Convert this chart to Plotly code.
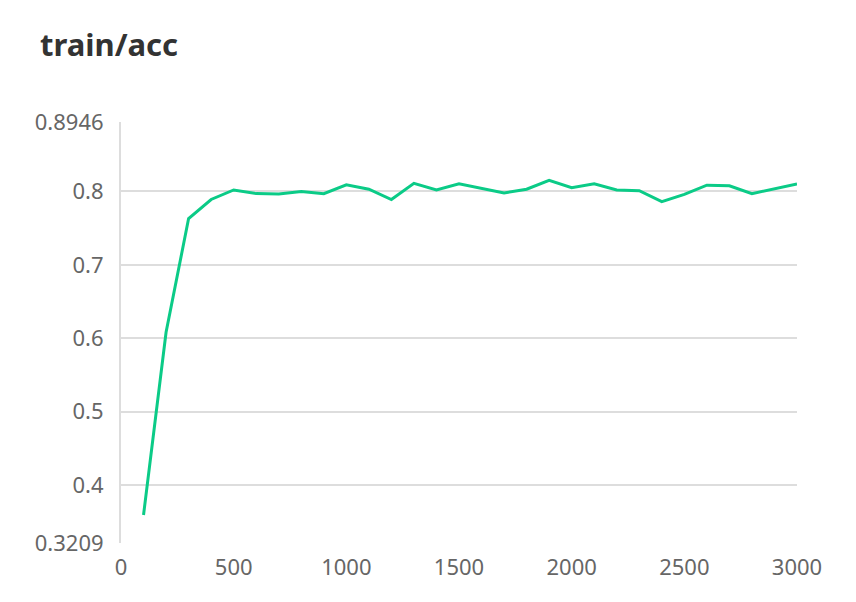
import plotly.graph_objects as go

steps = [100, 200, 300, 400, 500, 600, 700, 800, 900, 1000,
         1100, 1200, 1300, 1400, 1500, 1600, 1700, 1800, 1900, 2000,
         2100, 2200, 2300, 2400, 2500, 2600, 2700, 2800, 2900, 3000]
acc = [0.359, 0.608, 0.763, 0.789, 0.802, 0.797, 0.7965, 0.800, 0.797, 0.809,
       0.803, 0.789, 0.811, 0.802, 0.8105, 0.8045, 0.798, 0.803, 0.815, 0.805,
       0.8105, 0.802, 0.801, 0.786, 0.796, 0.8085, 0.8077, 0.797, 0.803, 0.810]

y_tickvals = [0.3209, 0.4, 0.5, 0.6, 0.7, 0.8, 0.8946]
y_ticktext = ["0.3209", "0.4", "0.5", "0.6", "0.7", "0.8", "0.8946"]
x_tickvals = [0, 500, 1000, 1500, 2000, 2500, 3000]

fig = go.Figure()
fig.add_trace(go.Scatter(
    x=steps, y=acc, mode="lines",
    line=dict(color="#0bcb87", width=3),
    hoverinfo="x+y", showlegend=False,
))

fig.update_layout(
    width=856, height=602,
    margin=dict(l=113, r=67, t=114, b=67),
    paper_bgcolor="white", plot_bgcolor="white",
    font=dict(family="Noto Sans, Open Sans, sans-serif", color="#666666", size=21),
    title=dict(text="<b>train/acc</b>", x=32 / 856, xanchor="left",
               y=1 - 37 / 602, yanchor="middle",
               font=dict(size=31, color="#333333", family="Noto Sans, Open Sans, sans-serif")),
    xaxis=dict(range=[0, 3000], tickvals=x_tickvals, showgrid=False,
               zeroline=False, showline=False, ticks="", ticklen=0,
               ticklabelstandoff=9,
               tickfont=dict(size=22, color="#666666")),
    yaxis=dict(range=[0.3209, 0.8946], tickvals=y_tickvals, ticktext=y_ticktext,
               showgrid=True, gridcolor="#dddddd", gridwidth=2,
               zeroline=False, showline=True, linecolor="#dddddd", linewidth=2,
               ticks="", ticklabelstandoff=11,
               tickfont=dict(size=22, color="#666666")),
)

fig.write_html("out.html")
